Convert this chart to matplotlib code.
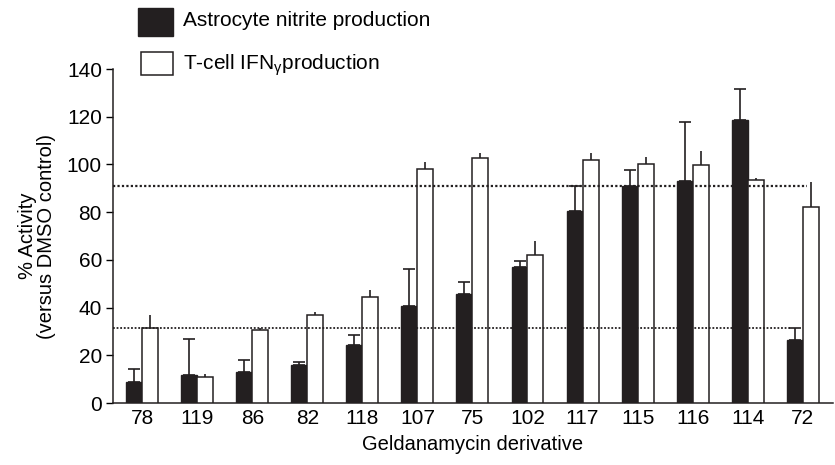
import numpy as np
import matplotlib
matplotlib.use("Agg")
import matplotlib.pyplot as plt
from matplotlib.patches import Rectangle

plt.rcParams['font.family'] = ['Liberation Sans', 'DejaVu Sans']
plt.rcParams['mathtext.fontset'] = 'custom'
plt.rcParams['mathtext.rm'] = 'Liberation Sans'

# data
derivatives = ['78', '119', '86', '82', '118', '107', '75', '102', '117', '115', '116', '114', '72']
astro = [8.6, 11.8, 12.8, 15.8, 24.2, 40.5, 45.8, 57.0, 80.6, 91.0, 93.0, 118.5, 26.5]
astro_err = [5.6, 15.2, 5.1, 1.5, 4.5, 15.5, 5.0, 2.5, 10.5, 6.5, 24.8, 13.0, 4.9]
tcell = [31.4, 11.1, 30.8, 36.8, 44.3, 98.0, 102.5, 62.0, 102.0, 100.3, 99.8, 93.5, 82.3]
tcell_err = [5.6, 0.9, 0.6, 1.4, 3.1, 3.0, 2.2, 5.8, 3.0, 2.8, 5.8, 0.7, 10.2]
ref_high = 91.0
ref_low = 31.5

fig = plt.figure(figsize=(8.35, 4.65), dpi=100)
ax = fig.add_axes([113/835, 1-403/465, 720/835, 334/465])

x = np.arange(len(derivatives))
w = 0.29
ax.bar(x - 0.145, astro, w, color='#231f20', edgecolor='#231f20', lw=1, zorder=3)
ax.bar(x + 0.145, tcell, w, color='white', edgecolor='#231f20', lw=1.1, zorder=3)
ax.errorbar(x - 0.145, astro, yerr=[np.zeros(len(astro)), astro_err], fmt='none',
            ecolor='#231f20', elinewidth=1.2, capsize=4, capthick=1.2, zorder=2)
ax.errorbar(x + 0.145, tcell, yerr=[np.zeros(len(tcell)), tcell_err], fmt='none',
            ecolor='#231f20', elinewidth=1.2, capsize=0, zorder=2)

ax.hlines(ref_high, -0.53, 12.07, colors='#231f20', linestyles=(0, (1, 1)), lw=1.6, zorder=4)
ax.hlines(ref_low, -0.53, 11.76, colors='#231f20', linestyles=(0, (1, 1)), lw=1.3, zorder=4)

ax.set_xlim(-0.53, 12.55)
ax.set_ylim(0, 140)
ax.set_yticks(np.arange(0, 141, 20))
ax.set_xticks(x)
ax.set_xticklabels(derivatives)
ax.tick_params(axis='x', length=0, pad=4, labelsize=15)
ax.tick_params(axis='y', length=5, width=1, direction='out', labelsize=15, pad=3)
for s in ['top', 'right']:
    ax.spines[s].set_visible(False)
for s in ['left', 'bottom']:
    ax.spines[s].set_linewidth(1.1)
    ax.spines[s].set_color('#231f20')

ax.set_xlabel('Geldanamycin derivative', fontsize=14.5, labelpad=5)
ax.set_ylabel('% Activity\n(versus DMSO control)', fontsize=14.5, labelpad=8, linespacing=1.0)

# legend drawn by hand above the axes
fig.add_artist(Rectangle((138/835, 1-36/465), 35/835, 28/465, transform=fig.transFigure,
                         facecolor='#231f20', edgecolor='#231f20', lw=1))
fig.add_artist(Rectangle((141/835, 1-75/465), 32/835, 23/465, transform=fig.transFigure,
                         facecolor='white', edgecolor='#231f20', lw=1.1))
fig.text(183/835, 1-21/465, 'Astrocyte nitrite production', fontsize=15, va='center')
fig.text(183/835, 1-65/465, 'T-cell IFN$_\\mathregular{γ}$production', fontsize=15, va='center')

fig.savefig('out.png', dpi=100)
